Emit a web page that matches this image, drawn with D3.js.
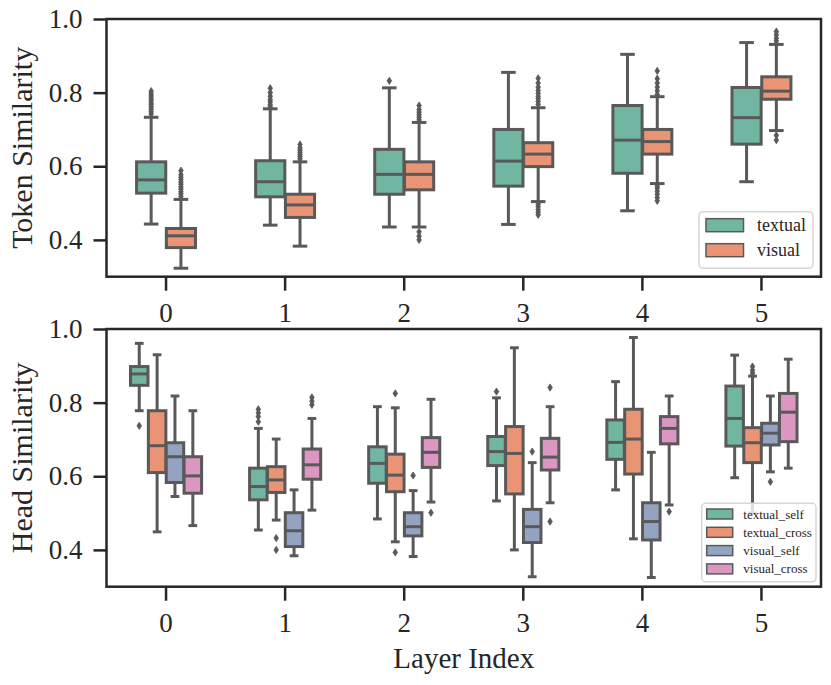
<!DOCTYPE html>
<html>
<head>
<meta charset="utf-8">
<script src="https://cdn.jsdelivr.net/npm/d3@7"></script>
<style>
  body { margin: 0; background: #fff; }
  text { font-family: "Liberation Serif", "Times New Roman", serif; fill: #262626; }
</style>
</head>
<body>
<div id="graf"></div>
<script>
// Data
const layers = ["0", "1", "2", "3", "4", "5"]
const tokenGroups = ["textual", "visual"]
const headGroups = ["textual_self", "textual_cross", "visual_self", "visual_cross"]
const yTicks = [0.4, 0.6, 0.8, 1.0]

// box stats per layer: [lower whisker, q1, median, q3, upper whisker]
const tokenTextual = [
  [0.443, 0.527, 0.563, 0.612, 0.733],
  [0.440, 0.517, 0.558, 0.615, 0.756],
  [0.435, 0.524, 0.578, 0.646, 0.813],
  [0.442, 0.546, 0.614, 0.700, 0.855],
  [0.479, 0.581, 0.671, 0.765, 0.904],
  [0.558, 0.660, 0.732, 0.814, 0.936],
]
const tokenVisual = [
  [0.323, 0.379, 0.411, 0.431, 0.510],
  [0.383, 0.461, 0.495, 0.524, 0.612],
  [0.435, 0.536, 0.578, 0.612, 0.719],
  [0.504, 0.599, 0.633, 0.664, 0.759],
  [0.553, 0.633, 0.667, 0.700, 0.789],
  [0.697, 0.782, 0.804, 0.843, 0.931],
]
const tokenTextualOut = [
  [0.742, 0.748, 0.755, 0.761, 0.767, 0.772, 0.779, 0.785, 0.791, 0.797, 0.804],
  [0.762, 0.768, 0.775, 0.781, 0.790, 0.800, 0.812],
  [0.832],
  [],
  [],
  [],
]
const tokenVisualOut = [
  [0.518, 0.525, 0.531, 0.538, 0.544, 0.551, 0.557, 0.564, 0.570, 0.577, 0.588],
  [0.620, 0.626, 0.632, 0.638, 0.644, 0.650, 0.659],
  [0.726, 0.733, 0.740, 0.747, 0.754, 0.765, 0.422, 0.410, 0.400],
  [0.768, 0.776, 0.784, 0.790, 0.798, 0.806, 0.815, 0.826, 0.839, 0.497, 0.490, 0.482, 0.475, 0.468],
  [0.795, 0.805, 0.815, 0.826, 0.838, 0.859, 0.546, 0.540, 0.532, 0.524, 0.515, 0.506],
  [0.940, 0.948, 0.957, 0.966, 0.684, 0.671],
]

const headTextualSelf = [
  [0.778, 0.847, 0.878, 0.898, 0.961],
  [0.454, 0.536, 0.572, 0.622, 0.730],
  [0.484, 0.581, 0.635, 0.680, 0.789],
  [0.533, 0.629, 0.667, 0.708, 0.813],
  [0.563, 0.646, 0.692, 0.753, 0.857],
  [0.596, 0.682, 0.757, 0.845, 0.929],
]
const headTextualCross = [
  [0.449, 0.610, 0.683, 0.778, 0.930],
  [0.481, 0.556, 0.590, 0.626, 0.701],
  [0.422, 0.558, 0.603, 0.660, 0.786],
  [0.400, 0.552, 0.662, 0.735, 0.949],
  [0.430, 0.606, 0.701, 0.782, 0.977],
  [0.500, 0.637, 0.691, 0.732, 0.872],
]
const headVisualSelf = [
  [0.545, 0.583, 0.653, 0.691, 0.818],
  [0.384, 0.409, 0.452, 0.501, 0.563],
  [0.382, 0.438, 0.463, 0.501, 0.561],
  [0.327, 0.420, 0.463, 0.510, 0.637],
  [0.325, 0.427, 0.477, 0.528, 0.665],
  [0.612, 0.685, 0.717, 0.744, 0.818],
]
const headVisualCross = [
  [0.466, 0.554, 0.601, 0.653, 0.778],
  [0.508, 0.592, 0.631, 0.674, 0.757],
  [0.530, 0.624, 0.665, 0.705, 0.809],
  [0.528, 0.617, 0.652, 0.703, 0.789],
  [0.522, 0.688, 0.730, 0.762, 0.818],
  [0.622, 0.694, 0.774, 0.825, 0.918],
]
const headTextualSelfOut = [[0.737], [0.748, 0.762, 0.772, 0.782], [], [0.830], [], []]
const headTextualCrossOut = [[], [0.432, 0.400], [0.825, 0.393], [], [], [0.880, 0.888, 0.898]]
const headVisualSelfOut = [[], [], [0.602], [0.667], [], [0.585]]
const headVisualCrossOut = [[], [0.814, 0.804, 0.794], [0.501], [0.841, 0.477], [0.504], []]

// Colores
const colores = ["#71b6a0", "#e99575", "#95a3c3", "#db96c1"]
const gris = "#595959"
const oscuro = "#262626"

const anchoTotal = 831
const altoTotal = 685
const margins = { left: 106.5, right: 10 }
const ancho = anchoTotal - margins.left - margins.right
const alto = 257.7

const svg = d3
  .select("#graf")
  .append("svg")
  .attr("width", anchoTotal)
  .attr("height", altoTotal)

const y = d3.scaleLinear().domain([0.3, 1.0]).range([alto, 0])
const x = d3.scaleBand().domain(layers).range([0, ancho])

const drawPanel = (cfg) => {
  const g = svg.append("g").attr("transform", `translate(${margins.left}, ${cfg.top})`)

  // Ejes
  const yAxisGroup = g
    .append("g")
    .call(d3.axisLeft(y).tickValues(yTicks).tickSize(13).tickPadding(11).tickFormat(d3.format(".1f")))
  const xAxisGroup = g
    .append("g")
    .attr("transform", `translate(0, ${alto})`)
    .call(d3.axisBottom(x).tickSize(14))
  ;[yAxisGroup, xAxisGroup].forEach((ax) => {
    ax.select(".domain").remove()
    ax.selectAll("line").attr("stroke", oscuro).attr("stroke-width", 2.5)
    ax.selectAll("text").attr("font-size", 27).attr("fill", oscuro)
      .style("font-family", '"Liberation Serif", serif')
  })
  xAxisGroup.selectAll("text").attr("dy", null).attr("y", 45)

  g.append("text")
    .attr("transform", `translate(-74.5, ${alto / 2}) rotate(-90)`)
    .attr("text-anchor", "middle")
    .attr("font-size", 30)
    .text(cfg.label)

  // Cajas
  const hueWidth = x.bandwidth() * cfg.width
  const xHue = d3.scaleBand().domain(cfg.groups).range([-hueWidth / 2, hueWidth / 2])
  const bw = xHue.bandwidth() * 0.98

  cfg.groups.forEach((grp, i) => {
    const stats = cfg.stats[i]
    const outs = cfg.outliers[i]
    const gBox = g.append("g")
    layers.forEach((layer, j) => {
      const [lw, q1, med, q3, uw] = stats[j]
      const cx = x(layer) + x.bandwidth() / 2 + xHue(grp) + xHue.bandwidth() / 2
      const line = (x1, y1, x2, y2) =>
        gBox.append("line")
          .attr("x1", x1).attr("y1", y1).attr("x2", x2).attr("y2", y2)
          .attr("stroke", gris).attr("stroke-width", 3)
      line(cx, y(q3), cx, y(uw))
      line(cx, y(q1), cx, y(lw))
      line(cx - bw / 4, y(uw), cx + bw / 4, y(uw))
      line(cx - bw / 4, y(lw), cx + bw / 4, y(lw))
      gBox.append("rect")
        .attr("x", cx - bw / 2)
        .attr("y", y(q3))
        .attr("width", bw)
        .attr("height", y(q1) - y(q3))
        .attr("fill", colores[i])
        .attr("stroke", gris)
        .attr("stroke-width", 3)
      line(cx - bw / 2, y(med), cx + bw / 2, y(med))
      gBox.selectAll(null)
        .data(outs[j])
        .join("path")
        .attr("d", "M0,-3.6L2.3,0L0,3.6L-2.3,0Z")
        .attr("transform", (d) => `translate(${cx}, ${y(d)})`)
        .attr("fill", gris)
        .attr("stroke", gris)
        .attr("stroke-width", 0.8)
    })
  })

  // Marco
  g.append("rect")
    .attr("width", ancho)
    .attr("height", alto)
    .attr("fill", "none")
    .attr("stroke", oscuro)
    .attr("stroke-width", 2.5)

  // Leyenda
  const L = cfg.legend
  const gl = g.append("g").attr("transform", `translate(${ancho - L.right}, ${L.top})`)
  gl.append("rect")
    .attr("width", L.w)
    .attr("height", L.h)
    .attr("rx", 4)
    .attr("fill", "white")
    .attr("fill-opacity", 0.8)
    .attr("stroke", "#d6d6d6")
    .attr("stroke-width", 1.5)
  cfg.groups.forEach((grp, i) => {
    gl.append("rect")
      .attr("x", L.px)
      .attr("y", L.py + i * L.step)
      .attr("width", L.pw)
      .attr("height", L.ph)
      .attr("fill", colores[i])
      .attr("stroke", gris)
      .attr("stroke-width", 1.5)
    gl.append("text")
      .attr("x", L.tx)
      .attr("y", L.py + i * L.step + L.ph / 2)
      .attr("dy", "0.35em")
      .attr("font-size", L.fs)
      .text(grp)
  })
  return g
}

drawPanel({
  top: 19,
  label: "Token Similarity",
  groups: tokenGroups,
  width: 0.5,
  stats: [tokenTextual, tokenVisual],
  outliers: [tokenTextualOut, tokenVisualOut],
  legend: { right: 122, top: 192.7, w: 114, h: 56.6, px: 7, py: 7, pw: 37.5, ph: 13, step: 25, tx: 58, fs: 18 },
})

const gHead = drawPanel({
  top: 329,
  label: "Head Similarity",
  groups: headGroups,
  width: 0.6,
  stats: [headTextualSelf, headTextualCross, headVisualSelf, headVisualCross],
  outliers: [headTextualSelfOut, headTextualCrossOut, headVisualSelfOut, headVisualCrossOut],
  legend: { right: 119.3, top: 174.3, w: 114.3, h: 78.4, px: 5, py: 5.7, pw: 26, ph: 10, step: 18.3, tx: 41.6, fs: 13 },
})

gHead.append("text")
  .attr("x", ancho / 2)
  .attr("y", 339)
  .attr("text-anchor", "middle")
  .attr("font-size", 29)
  .text("Layer Index")
</script>
</body>
</html>
